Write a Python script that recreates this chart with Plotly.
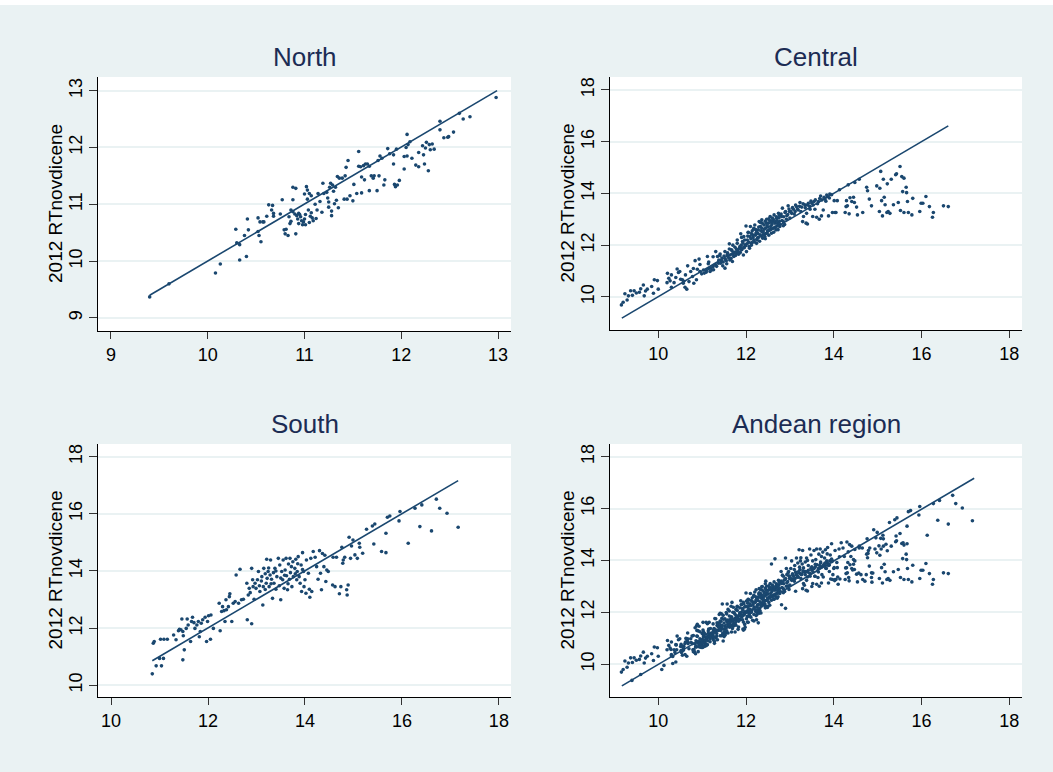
import plotly.graph_objects as go

W, H = 1053, 772

# ---------------- data ----------------
panel_titles = ["North", "Central", "South", "Andean region"]
y_title = "2012 RTnovdicene"

north_pts = [
    (9.40, 9.37), (9.60, 9.60), (10.08, 9.79), (10.13, 9.95), (10.29, 10.56), (10.30, 10.32),
    (10.33, 10.29), (10.33, 10.02), (10.40, 10.08), (10.38, 10.45), (10.41, 10.74), (10.42, 10.55),
    (10.52, 10.76), (10.52, 10.52), (10.53, 10.45), (10.55, 10.34), (10.54, 10.69), (10.57, 10.69),
    (10.58, 10.69), (10.61, 10.79), (10.63, 10.99), (10.67, 10.98), (10.66, 10.90), (10.68, 10.84),
    (10.68, 10.79), (10.75, 10.83), (10.77, 11.08), (10.79, 10.55), (10.81, 10.56), (10.80, 10.48),
    (10.83, 10.45), (10.85, 10.66), (10.86, 10.70), (10.88, 11.30), (10.91, 11.28), (10.88, 11.08),
    (10.86, 10.90), (10.88, 10.87), (10.90, 10.83), (10.91, 10.48), (10.92, 10.80), (10.94, 10.84),
    (10.94, 10.66), (10.95, 10.82), (10.97, 10.71), (10.98, 10.64), (10.99, 10.69), (11.00, 10.74),
    (11.00, 11.18), (11.01, 10.64), (11.02, 11.31), (11.03, 11.09), (11.03, 11.25), (11.04, 10.90),
    (11.05, 11.19), (11.06, 10.79), (11.07, 11.15), (11.07, 10.85), (11.08, 10.76), (11.09, 10.71),
    (11.11, 11.00), (11.12, 10.75), (11.13, 10.90), (11.14, 11.19), (11.18, 10.86), (11.19, 11.37),
    (11.20, 11.19), (11.23, 11.21), (11.24, 11.11), (11.25, 11.04), (11.25, 10.95), (11.26, 11.30),
    (11.27, 11.37), (11.28, 10.80), (11.28, 10.88), (11.29, 11.34), (11.30, 11.23), (11.31, 11.01),
    (11.32, 11.30), (11.33, 11.07), (11.34, 11.49), (11.35, 10.94), (11.36, 11.46), (11.39, 11.46),
    (11.41, 11.09), (11.42, 11.50), (11.43, 11.65), (11.44, 11.09), (11.45, 11.77), (11.47, 11.15),
    (11.50, 11.06), (11.51, 11.35), (11.54, 11.19), (11.56, 11.93), (11.56, 11.67), (11.58, 11.66),
    (11.59, 11.20), (11.59, 11.48), (11.61, 11.68), (11.62, 11.43), (11.63, 11.71), (11.65, 11.71),
    (11.67, 11.24), (11.67, 11.67), (11.69, 11.50), (11.71, 11.46), (11.72, 11.50), (11.75, 11.24),
    (11.76, 11.77), (11.77, 11.50), (11.78, 11.85), (11.80, 11.81), (11.82, 11.34), (11.83, 11.43),
    (11.86, 11.98), (11.88, 11.89), (11.92, 11.71), (11.92, 11.87), (11.93, 11.35), (11.94, 11.31),
    (11.95, 11.97), (11.96, 11.34), (11.98, 11.42), (12.03, 11.62), (12.03, 11.84), (12.05, 12.00),
    (12.06, 12.23), (12.06, 11.85), (12.07, 12.05), (12.09, 12.10), (12.11, 11.81), (12.15, 11.69),
    (12.18, 11.91), (12.18, 11.66), (12.22, 12.03), (12.23, 11.87), (12.24, 11.71), (12.25, 11.99),
    (12.26, 12.09), (12.28, 11.59), (12.29, 12.05), (12.30, 11.96), (12.32, 12.06), (12.34, 11.97),
    (12.40, 12.46), (12.40, 12.31), (12.44, 12.17), (12.48, 12.18), (12.49, 12.19), (12.54, 12.27),
    (12.60, 12.60), (12.64, 12.50), (12.71, 12.54), (12.98, 12.88),
    (10.96, 10.78), (11.01, 10.82), (10.93, 10.74), (11.05, 10.68), (10.84, 10.78), (11.16, 11.05),
]

central_pts = [
    (9.16, 9.69), (9.20, 9.79), (9.24, 10.12), (9.29, 9.88), (9.32, 10.04), (9.37, 10.24),
    (9.41, 10.06), (9.45, 10.24), (9.57, 10.18), (9.60, 10.31), (9.66, 10.46), (9.68, 10.04),
    (9.71, 10.23), (9.89, 10.14), (9.91, 10.66), (9.98, 10.63), (10.00, 10.30), (10.21, 10.91),
    (10.24, 10.72), (10.27, 10.62), (10.30, 10.37), (10.36, 10.55), (10.43, 11.08), (10.46, 10.94),
    (10.49, 10.98), (10.51, 10.68), (10.55, 10.66), (10.57, 10.53), (10.61, 10.37), (10.65, 10.30),
    (10.67, 11.20), (10.70, 10.59), (10.74, 10.98), (10.78, 10.79), (10.81, 10.53), (10.84, 11.40),
    (10.87, 10.66), (10.89, 11.07), (10.93, 11.46), (10.95, 10.98), (10.99, 10.89), (11.03, 11.04),
    (11.09, 10.95), (11.12, 11.56), (11.14, 11.28), (11.18, 10.98), (11.22, 11.04), (11.25, 11.17),
    (11.31, 11.75), (11.35, 11.56), (11.37, 11.30), (11.41, 11.66), (11.44, 11.40), (11.47, 11.20),
    (11.52, 11.11), (11.56, 11.28), (11.57, 11.62), (11.62, 12.05), (11.63, 11.43), (11.67, 11.82),
    (11.69, 11.37), (11.72, 11.56), (11.75, 11.92), (11.79, 11.69), (11.80, 12.07), (11.82, 11.75),
    (11.86, 11.95), (11.88, 12.44), (11.90, 11.82), (11.92, 12.14), (11.94, 11.62), (11.95, 12.33),
    (11.98, 12.01), (12.00, 12.74), (12.01, 11.75), (12.03, 12.20), (12.05, 12.49), (12.07, 11.95),
    (12.09, 12.33), (12.10, 12.72), (12.13, 12.07), (12.15, 12.40), (12.17, 12.62), (12.18, 12.20),
    (12.20, 12.78), (12.23, 12.46), (12.24, 12.07), (12.26, 12.27), (12.28, 12.59), (12.30, 12.91),
    (12.32, 12.40), (12.33, 12.72), (12.36, 12.98), (12.38, 12.27), (12.39, 12.53), (12.41, 12.78),
    (12.43, 12.33), (12.45, 12.66), (12.47, 13.00), (12.48, 12.46), (12.51, 12.85), (12.53, 12.59),
    (12.55, 13.11), (12.56, 12.72), (12.58, 12.46), (12.61, 12.95), (12.62, 12.66), (12.64, 13.17),
    (12.66, 12.85), (12.68, 12.59), (12.70, 13.04), (12.71, 12.75), (12.74, 13.23), (12.76, 12.91),
    (12.77, 12.72), (12.81, 13.11), (12.83, 13.43), (12.85, 12.91), (12.89, 13.26), (12.93, 13.14),
    (12.96, 13.52), (12.99, 13.30), (13.04, 13.23), (13.08, 13.39), (13.12, 13.30), (13.15, 13.49),
    (13.19, 13.36), (13.23, 13.65), (13.27, 13.47), (13.29, 12.91), (13.31, 13.11), (13.34, 13.56),
    (13.37, 12.85), (13.38, 13.23), (13.40, 12.82), (13.42, 13.62), (13.46, 13.39), (13.50, 13.62),
    (13.52, 13.11), (13.55, 13.69), (13.57, 13.39), (13.61, 13.08), (13.65, 13.69), (13.67, 13.00),
    (13.70, 13.90), (13.72, 13.13), (13.76, 13.36), (13.80, 13.78), (13.84, 13.94), (13.88, 13.13),
    (13.90, 13.82), (13.91, 13.98), (13.97, 13.26), (14.01, 13.72), (14.03, 13.26), (14.05, 13.26),
    (14.08, 13.72), (14.13, 14.14), (14.26, 13.26), (14.28, 13.49), (14.29, 13.72), (14.31, 13.52),
    (14.33, 14.33), (14.35, 13.21), (14.37, 13.83), (14.41, 13.69), (14.45, 13.85), (14.47, 13.65),
    (14.48, 14.42), (14.52, 13.47), (14.54, 13.17), (14.58, 14.55), (14.66, 13.26), (14.75, 14.24),
    (14.77, 14.10), (14.81, 13.78), (14.86, 13.52), (14.98, 14.29), (15.04, 13.30), (15.05, 14.20),
    (15.07, 14.85), (15.09, 13.72), (15.11, 13.13), (15.13, 14.55), (15.15, 13.85), (15.17, 13.56),
    (15.21, 13.26), (15.22, 14.37), (15.24, 13.30), (15.28, 13.23), (15.31, 14.55), (15.36, 13.56),
    (15.41, 14.72), (15.43, 14.76), (15.47, 13.65), (15.51, 15.04), (15.52, 13.34), (15.55, 14.65),
    (15.57, 14.07), (15.60, 14.59), (15.60, 13.26), (15.65, 14.24), (15.66, 14.03), (15.68, 13.69),
    (15.70, 13.26), (15.78, 13.17), (15.80, 13.81), (15.96, 13.30), (15.99, 13.62), (16.03, 13.62),
    (16.10, 13.88), (16.18, 13.49), (16.25, 13.08), (16.27, 13.26), (16.50, 13.52), (16.61, 13.49),
    (11.05, 10.92), (11.10, 11.02), (11.15, 11.10), (11.20, 11.12), (11.26, 11.05), (11.30, 11.25),
    (11.33, 11.18), (11.38, 11.42), (11.42, 11.30), (11.45, 11.50), (11.48, 11.35), (11.50, 11.58),
    (11.53, 11.45), (11.55, 11.40), (11.58, 11.70), (11.60, 11.52), (11.64, 11.62), (11.66, 11.48),
    (11.68, 11.78), (11.70, 11.65), (11.73, 11.72), (11.76, 11.60), (11.78, 11.85), (11.81, 11.78),
    (11.83, 11.65), (11.85, 11.88), (11.87, 11.72), (11.89, 12.00), (11.91, 11.85), (11.93, 12.08),
    (11.96, 11.90), (11.97, 12.20), (11.99, 11.98), (12.02, 12.05), (12.04, 12.35), (12.06, 12.12),
    (12.08, 11.88), (12.11, 12.25), (12.12, 12.00), (12.14, 12.55), (12.16, 12.30), (12.19, 12.12),
    (12.21, 12.38), (12.22, 12.60), (12.25, 12.20), (12.27, 12.45), (12.29, 12.70), (12.31, 12.15),
    (12.34, 12.55), (12.35, 12.35), (12.37, 12.85), (12.40, 12.40), (12.42, 12.62), (12.44, 12.25),
    (12.46, 12.85), (12.49, 12.55), (12.50, 12.70), (12.52, 12.38), (12.54, 12.95), (12.57, 12.62),
    (12.59, 12.80), (12.60, 13.05), (12.63, 12.50), (12.65, 12.90), (12.67, 12.70), (12.69, 13.10),
    (12.72, 12.85), (12.73, 12.60), (12.75, 13.05), (12.78, 12.80), (12.80, 13.20), (12.82, 12.95),
    (12.86, 13.10), (12.88, 12.80), (12.90, 13.30), (12.92, 13.00), (12.95, 13.18), (12.98, 13.40),
    (13.00, 13.05), (13.02, 13.30), (13.06, 13.45), (13.10, 13.20), (13.13, 13.55), (13.17, 13.40),
    (13.22, 13.50), (13.25, 13.30), (13.30, 13.60), (13.35, 13.45), (13.40, 13.55), (13.45, 13.50),
    (13.48, 13.70), (13.53, 13.55), (13.58, 13.75), (13.63, 13.60), (13.68, 13.80), (13.73, 13.75),
    (13.78, 13.85), (13.82, 13.70), (13.86, 13.88), (13.95, 13.95), (12.12, 12.45), (12.24, 12.50),
    (12.36, 12.65), (12.48, 12.75), (12.58, 12.88), (12.62, 13.00), (12.70, 12.95), (12.76, 13.15),
    (12.05, 12.50), (12.18, 12.65), (12.28, 12.30), (12.38, 12.50), (12.45, 12.45), (12.55, 12.60),
    (12.66, 12.68), (12.74, 12.75), (12.85, 12.75), (12.44, 12.92), (12.52, 13.02), (12.33, 12.88),
    (11.90, 12.30), (11.80, 12.20), (11.70, 12.00), (11.62, 11.85), (11.52, 11.75), (11.40, 11.60),
    (11.25, 11.55), (11.15, 11.35), (10.95, 11.25), (10.80, 11.10), (10.62, 10.85), (10.58, 10.60),
    (10.40, 10.75), (10.30, 10.85), (10.20, 10.55), (9.50, 10.15), (9.75, 10.30), (9.85, 10.40),
]

south_pts = [
    (10.85, 10.40), (10.87, 11.47), (10.89, 11.53), (10.93, 10.68), (11.00, 10.94), (11.04, 10.68),
    (11.08, 10.94), (11.02, 11.61), (11.09, 11.61), (11.16, 11.61), (11.29, 11.76), (11.34, 11.59),
    (11.39, 11.91), (11.41, 11.96), (11.44, 11.94), (11.46, 12.32), (11.48, 11.88), (11.48, 10.89),
    (11.49, 11.73), (11.51, 11.24), (11.55, 11.99), (11.57, 12.32), (11.59, 12.11), (11.64, 11.53),
    (11.66, 12.23), (11.68, 12.38), (11.71, 12.19), (11.73, 11.99), (11.77, 12.11), (11.80, 12.23),
    (11.82, 11.70), (11.84, 11.88), (11.86, 12.17), (11.89, 12.29), (11.94, 12.38), (11.97, 11.53),
    (11.99, 12.23), (12.01, 12.43), (12.05, 11.61), (12.06, 12.46), (12.11, 11.99), (12.23, 12.87),
    (12.25, 11.91), (12.28, 12.58), (12.30, 12.75), (12.33, 12.61), (12.35, 12.23), (12.37, 12.99),
    (12.38, 12.64), (12.42, 12.75), (12.44, 13.10), (12.45, 13.20), (12.49, 12.23), (12.52, 12.87),
    (12.56, 12.93), (12.58, 13.86), (12.63, 12.87), (12.66, 14.06), (12.69, 12.99), (12.73, 13.01),
    (12.80, 13.57), (12.81, 12.29), (12.83, 13.16), (12.85, 13.39), (12.87, 13.24), (12.90, 12.15),
    (12.90, 14.09), (12.92, 13.69), (12.93, 13.45), (12.95, 13.01), (12.97, 13.57), (12.99, 13.39),
    (13.02, 13.69), (13.04, 13.98), (13.06, 13.48), (13.07, 13.28), (13.11, 13.80), (13.13, 12.81),
    (13.14, 13.45), (13.15, 14.09), (13.18, 13.90), (13.20, 13.57), (13.21, 14.41), (13.22, 13.74),
    (13.24, 13.98), (13.26, 13.45), (13.28, 13.86), (13.29, 14.38), (13.31, 13.71), (13.33, 13.04),
    (13.35, 13.94), (13.36, 13.57), (13.38, 14.09), (13.40, 13.36), (13.42, 13.80), (13.45, 14.44),
    (13.47, 13.48), (13.48, 14.21), (13.50, 12.99), (13.52, 13.98), (13.54, 13.69), (13.55, 14.38),
    (13.57, 13.39), (13.59, 14.03), (13.61, 14.44), (13.62, 13.83), (13.64, 13.34), (13.66, 14.24),
    (13.68, 13.71), (13.69, 14.44), (13.70, 13.94), (13.73, 13.45), (13.75, 14.32), (13.76, 13.80),
    (13.79, 14.09), (13.81, 14.41), (13.83, 13.69), (13.84, 13.98), (13.86, 14.50), (13.88, 13.80),
    (13.90, 13.57), (13.92, 14.21), (13.93, 13.28), (13.95, 14.64), (13.97, 13.98), (13.98, 13.45),
    (14.00, 13.69), (14.02, 13.22), (14.03, 14.38), (14.07, 13.92), (14.09, 13.36), (14.10, 13.08),
    (14.12, 14.44), (14.14, 13.28), (14.17, 14.68), (14.21, 14.48), (14.24, 14.15), (14.27, 13.71),
    (14.30, 14.71), (14.32, 13.92), (14.34, 13.34), (14.36, 14.61), (14.39, 14.15), (14.41, 14.55),
    (14.43, 13.63), (14.45, 14.03), (14.48, 13.98), (14.57, 13.51), (14.58, 14.48), (14.62, 13.45),
    (14.65, 14.48), (14.71, 13.20), (14.74, 13.45), (14.76, 14.83), (14.78, 14.27), (14.79, 14.38),
    (14.82, 14.48), (14.86, 13.34), (14.87, 13.16), (14.89, 13.51), (14.91, 15.18), (14.94, 14.44),
    (14.96, 14.87), (14.99, 15.08), (15.03, 14.56), (15.08, 14.44), (15.12, 14.97), (15.13, 14.83),
    (15.19, 14.62), (15.27, 15.46), (15.39, 15.57), (15.42, 14.94), (15.44, 15.64), (15.58, 14.68),
    (15.67, 14.64), (15.67, 15.32), (15.70, 15.88), (15.75, 15.92), (15.94, 15.75), (15.96, 16.08),
    (16.13, 14.97), (16.27, 16.19), (16.37, 15.55), (16.41, 16.31), (16.61, 15.40), (16.71, 16.51),
    (16.78, 16.19), (16.93, 16.02), (17.16, 15.53),
    (13.10, 13.65), (13.25, 14.10), (13.40, 14.00), (13.58, 13.85), (13.72, 14.15), (13.85, 14.25),
    (13.30, 13.55), (13.50, 13.75), (13.65, 13.55), (13.80, 13.90), (13.95, 14.05), (13.18, 13.35),
]

# Andean region = all departments together
andean_pts = north_pts + central_pts + south_pts

# fitted lines (end points)
north_fit_x, north_fit_y = [9.40, 12.99], [9.40, 13.00]
central_fit_x, central_fit_y = [9.17, 16.61], [9.18, 16.61]
south_fit_x, south_fit_y = [10.85, 17.16], [10.86, 17.16]
andean_fit_x, andean_fit_y = [9.17, 17.20], [9.16, 17.17]

north_ticks = [9, 10, 11, 12, 13]
wide_ticks = [10, 12, 14, 16, 18]

# ---------------- layout ----------------
BG = "#EAF2F3"
NAVY = "#1A476F"
FONT = "Liberation Sans, Arial, sans-serif"

panels = [
    # pts, fit, xticks, yticks, xrange, yrange, px box (l, r, t, b)
    (north_pts, (north_fit_x, north_fit_y), north_ticks, north_ticks,
     [8.866, 13.134], [8.77, 13.24], (98, 511, 77, 331)),
    (central_pts, (central_fit_x, central_fit_y), wide_ticks, wide_ticks,
     [8.90, 18.29], [8.72, 18.50], (610, 1022, 77, 330)),
    (south_pts, (south_fit_x, south_fit_y), wide_ticks, wide_ticks,
     [9.73, 18.25], [9.59, 18.44], (98, 511, 444, 697)),
    (andean_pts, (andean_fit_x, andean_fit_y), wide_ticks, wide_ticks,
     [8.90, 18.29], [8.73, 18.49], (610, 1022, 444, 697)),
]

fig = go.Figure()
annotations = []
layout_axes = {}

for i, (pts, fit, xt, yt, xr, yr, box) in enumerate(panels):
    n = i + 1
    xa = "x" if n == 1 else f"x{n}"
    ya = "y" if n == 1 else f"y{n}"
    l, r, t, b = box
    fig.add_trace(go.Scatter(
        x=[p[0] for p in pts], y=[p[1] for p in pts], mode="markers",
        marker=dict(size=3.6, color=NAVY), xaxis=xa, yaxis=ya, showlegend=False,
    ))
    fig.add_trace(go.Scatter(
        x=fit[0], y=fit[1], mode="lines", line=dict(color=NAVY, width=1.6),
        xaxis=xa, yaxis=ya, showlegend=False,
    ))
    common = dict(
        showline=True, linecolor="black", linewidth=1, ticks="outside",
        tickcolor="#333333", tickwidth=1, zeroline=False,
        tickfont=dict(family=FONT, size=18, color="black"),
    )
    layout_axes["xaxis" if n == 1 else f"xaxis{n}"] = dict(
        domain=[l / W, r / W], range=xr, tickvals=xt, showgrid=False, ticklen=7,
        anchor=ya, **common,
    )
    layout_axes["yaxis" if n == 1 else f"yaxis{n}"] = dict(
        domain=[1 - b / H, 1 - t / H], range=yr, tickvals=yt, showgrid=True, ticklen=8,
        gridcolor=BG, gridwidth=1.5, tickangle=-90, anchor=xa, **common,
    )
    annotations.append(dict(
        text=panel_titles[i], x=(l + r) / 2 / W, y=1 - (t - 20) / H, xref="paper", yref="paper",
        showarrow=False, xanchor="center", yanchor="middle",
        font=dict(family=FONT, size=26, color="#1C2C54"),
    ))
    annotations.append(dict(
        text=y_title, x=(l - 43) / W, y=1 - (t + b) / 2 / H, xref="paper", yref="paper",
        showarrow=False, xanchor="center", yanchor="middle", textangle=-90,
        font=dict(family=FONT, size=19, color="black"),
    ))

fig.update_layout(
    width=W, height=H, margin=dict(l=0, r=0, t=0, b=0),
    paper_bgcolor=BG, plot_bgcolor="white",
    annotations=annotations,
    shapes=[dict(type="rect", xref="paper", yref="paper", x0=0, x1=1, y0=1 - 5 / H, y1=1,
                 fillcolor="white", line=dict(width=0), layer="above")],
    **layout_axes,
)

fig.write_html("out.html")
